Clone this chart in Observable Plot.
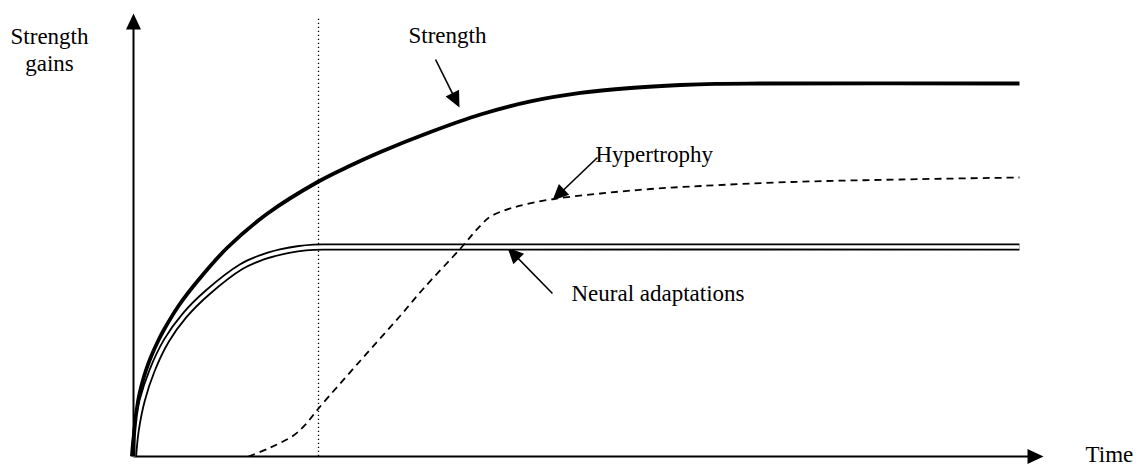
<!DOCTYPE html>
<html><head><meta charset="utf-8">
<script src="https://cdn.jsdelivr.net/npm/d3@7"></script>
<script src="https://cdn.jsdelivr.net/npm/@observablehq/plot@0.6"></script>
<style>body{margin:0;background:#fff}</style>
</head><body><div id="chart"></div>
<script>
// ---- data (time 0..100, strength gains 0..100) ----
const strengthTime  = [0, 0.09, 0.51, 0.88, 1.36, 1.98, 2.73, 3.30, 4.98, 7.09, 10.33, 14.73, 20.33, 23.85, 27.14, 32.64, 38.13, 43.63, 49.12, 54.62, 60.11, 63.96, 68.90, 97.36];
const strengthGain  = [0, 5.87, 12.64, 16.03, 19.41, 22.80, 26.19, 28.44, 34.09, 39.73, 47.18, 54.85, 62.08, 65.69, 68.74, 73.25, 77.20, 80.14, 82.06, 83.18, 83.86, 84.13, 84.20, 84.20];
const neuralTime    = [0, 0.29, 0.95, 2.04, 3.63, 5.60, 8.13, 11.87, 14.07, 16.15, 18.02, 19.78, 22.20, 97.36];
const neuralGain    = [0, 5.87, 12.64, 19.41, 26.19, 31.83, 37.02, 42.89, 44.92, 46.16, 46.88, 47.25, 47.29, 47.29];
const hyperTime     = [12.64, 15.05, 17.58, 18.90, 20.33, 24.95, 29.34, 31.87, 35.93, 38.13, 39.23, 41.76, 45.82, 51.32, 56.81, 62.31, 72.20, 84.29, 97.36];
const hyperGain     = [0, 2.03, 4.74, 7.22, 10.84, 21.67, 31.83, 37.92, 46.95, 52.14, 54.18, 56.21, 58.01, 59.37, 60.38, 61.06, 61.96, 62.53, 62.98];
const phaseMarker   = 20.33;

// ---- labels ----
const yAxisLabel = "Strength\ngains";
const xAxisLabel = "Time";
const annotationLabels = ["Strength", "Hypertrophy", "Neural adaptations"];

// ---- layout (annotation anchors in chart units) ----
const yAxisLabelPos = [-9.23, 86.91];
const xAxisLabelPos = [104.62, -1.35];
const annotationTextPos = [[30.22, 93.23], [50.77, 66.48], [48.13, 35.21]];
const annotationArrowFrom = [[33.19, 89.62], [50.99, 67.49], [46.04, 36.79]];
const annotationArrowTo   = [[35.82, 78.78], [46.04, 57.79], [41.10, 47.18]];

const xDomain = [0, 100], xRange = [133, 1043];
const yDomain = [0, 100], yRange = [456, 13];
const sx = d3.scaleLinear(xDomain, xRange), sy = d3.scaleLinear(yDomain, yRange);

const zip = (xs, ys) => xs.map((x, i) => ({x, y: ys[i]}));
const strength = zip(strengthTime, strengthGain);
const neural = zip(neuralTime, neuralGain);
const hyper = zip(hyperTime, hyperGain);

// arrows: axes + annotations
const arrows = [
  {from: [0, 0], to: [0, 100]},
  {from: [0, 0], to: [100, 0]},
  ...annotationArrowFrom.map((f, i) => ({from: f, to: annotationArrowTo[i]}))
].map(a => {
  const dx = sx(a.to[0]) - sx(a.from[0]), dy = sy(a.to[1]) - sy(a.from[1]);
  const len = Math.hypot(dx, dy), back = 8 / len;
  return {
    x1: a.from[0], y1: a.from[1],
    x2: a.to[0] - (a.to[0] - a.from[0]) * back,
    y2: a.to[1] - (a.to[1] - a.from[1]) * back,
    tx: a.to[0], ty: a.to[1],
    angle: Math.atan2(dx, -dy) * 180 / Math.PI,
    axis: a.from[0] === 0 && a.from[1] === 0
  };
});

const head = {draw(ctx) { ctx.moveTo(0, 0); ctx.lineTo(7.5, 16); ctx.lineTo(-7.5, 16); ctx.closePath(); }};

const startTexts = [
  {t: xAxisLabel, x: xAxisLabelPos[0], y: xAxisLabelPos[1]},
  ...annotationLabels.map((t, i) => ({t, x: annotationTextPos[i][0], y: annotationTextPos[i][1]}))
];

const font = "Liberation Serif, Times New Roman, serif";
const curve = "catmull-rom";
const textStyle = {lineAnchor: "bottom", lineHeight: 1.2, fontSize: 23, fontFamily: font, fill: "#000"};

const chart = Plot.plot({
  width: 1140, height: 467,
  marginLeft: 0, marginRight: 0, marginTop: 0, marginBottom: 0,
  x: {domain: xDomain, range: xRange, axis: null},
  y: {domain: yDomain, range: yRange, axis: null},
  style: {background: "#fff", fontFamily: font, overflow: "visible"},
  marks: [
    Plot.ruleX([phaseMarker], {y1: 0, y2: 99.3, stroke: "#000", strokeWidth: 1.3, strokeDasharray: "1.3,2.7"}),
    Plot.link(arrows, {x1: "x1", y1: "y1", x2: "x2", y2: "y2", stroke: "#000", strokeWidth: d => d.axis ? 2 : 1.6}),
    Plot.dot(arrows, {x: "tx", y: "ty", symbol: head, rotate: "angle", fill: "#000", stroke: "none"}),
    Plot.line(neural, {x: "x", y: "y", curve, stroke: "#000", strokeWidth: 7, strokeLinecap: "butt"}),
    Plot.line(neural, {x: "x", y: "y", curve, stroke: "#fff", strokeWidth: 3.4, strokeLinecap: "butt"}),
    Plot.line(strength, {x: "x", y: "y", curve, stroke: "#000", strokeWidth: 3.8, strokeLinecap: "butt"}),
    Plot.line(hyper, {x: "x", y: "y", curve, stroke: "#000", strokeWidth: 1.8, strokeDasharray: "7,5", strokeLinecap: "butt"}),
    Plot.text([yAxisLabel], {x: () => yAxisLabelPos[0], y: () => yAxisLabelPos[1], text: d => d, textAnchor: "middle", ...textStyle}),
    Plot.text(startTexts, {x: "x", y: "y", text: "t", textAnchor: "start", ...textStyle})
  ]
});
document.getElementById("chart").appendChild(chart);
</script>
</body></html>
